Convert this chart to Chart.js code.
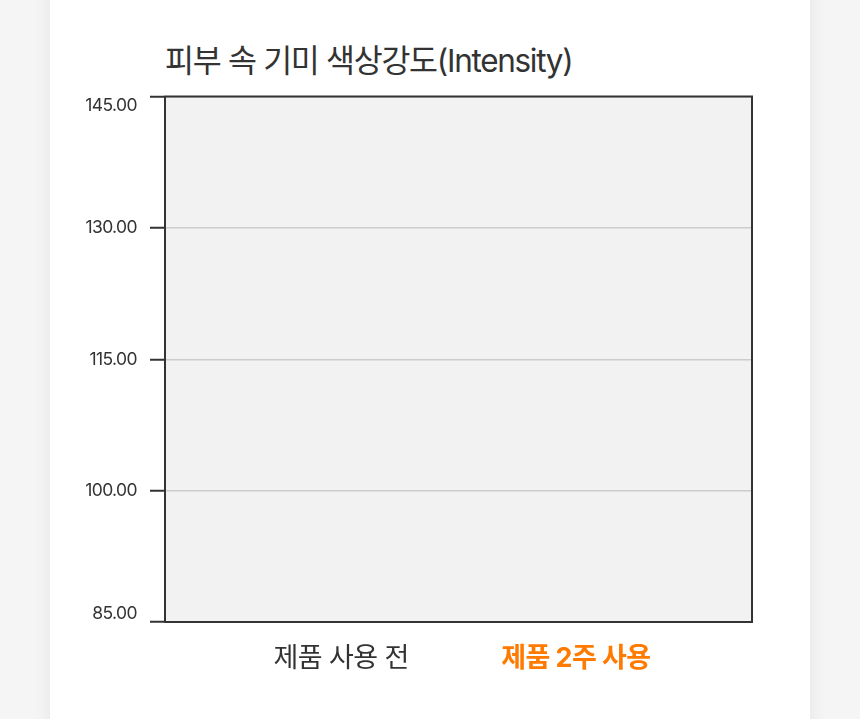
<!DOCTYPE html>
<html lang="ko">
<head>
<meta charset="utf-8">
<script src="https://cdn.jsdelivr.net/npm/chart.js@4/dist/chart.umd.min.js"></script>
<style>
  html, body { margin: 0; padding: 0; background: #f5f5f5; width: 860px; height: 719px; overflow: hidden; }
  #card { position: absolute; left: 50px; top: -20px; width: 760px; height: 780px; background: #fff;
          box-shadow: 0 0 18px rgba(0,0,0,0.07); }
  #title { position: absolute; left: 115px; top: 65px; margin: 0; font-family: Inter, "Noto Sans CJK KR", sans-serif;
           font-weight: 400; font-size: 31.5px; letter-spacing: -1.3px; color: #333; line-height: 1; white-space: nowrap; }
  #wrap { position: absolute; left: 0; top: 86px; width: 760px; height: 653px; }
</style>
</head>
<body>
<div id="card">
  <h1 id="title">피부 속 기미 색상강도(Intensity)</h1>
  <div id="wrap"><canvas id="c"></canvas></div>
</div>
<script>
const categories = ['제품 사용 전', '제품 2주 사용'];
const intensityValues = [null, null];   // no bars are visible in the reference
const yTicks = [85, 100, 115, 130, 145];
const yMin = 85, yMax = 145;

// category slots: the two labels sit at 30% and 70% of the plot width
const slotLabels = ['', categories[0], '', categories[1], ''];
const slotData = [null, intensityValues[0], null, intensityValues[1], null];

const frame = {
  id: 'frame',
  beforeInit(chart) { chart.ctx.letterSpacing = '-0.6px'; },
  beforeDraw(chart) {
    const { ctx, chartArea: a } = chart;
    ctx.letterSpacing = '-0.6px';
    ctx.save();
    ctx.fillStyle = '#f2f2f2';
    ctx.fillRect(a.left, a.top, a.right - a.left, a.bottom - a.top);
    ctx.restore();
  },
  afterDraw(chart) {
    const { ctx, chartArea: a } = chart;
    ctx.save();
    ctx.strokeStyle = '#333';
    ctx.lineWidth = 2;
    ctx.strokeRect(a.left, a.top, a.right - a.left, a.bottom - a.top);
    ctx.restore();
  }
};

new Chart(document.getElementById('c'), {
  type: 'bar',
  data: {
    labels: slotLabels,
    datasets: [{ data: slotData, backgroundColor: ['#555', '#555', '#555', '#ff7a00', '#555'] }]
  },
  options: {
    responsive: true,
    maintainAspectRatio: false,
    animation: false,
    layout: { padding: { top: 10, right: 58, left: 0, bottom: 0 } },
    plugins: { legend: { display: false }, tooltip: { enabled: false } },
    scales: {
      x: {
        offset: true,
        grid: { display: false, drawTicks: false },
        border: { display: false },
        ticks: {
          padding: 21,
          maxRotation: 0,
          autoSkip: false,
          font: (ctx) => ({ family: 'Inter, "Noto Sans CJK KR", sans-serif', size: 27, weight: ctx.index === 3 ? 'bold' : 'normal' }),
          color: (ctx) => ctx.index === 3 ? '#ff7a00' : '#333'
        },
        afterFit(s) { s.height = 97; }
      },
      y: {
        min: yMin, max: yMax,
        afterBuildTicks(s) { s.ticks = yTicks.map(v => ({ value: v })); },
        grid: { color: '#cccccc', lineWidth: 1.5, tickLength: 15, tickColor: '#333', tickWidth: 2 },
        border: { color: '#333', width: 2 },
        ticks: {
          padding: 13,
          color: '#333',
          font: { family: 'Inter, "Noto Sans CJK KR", sans-serif', size: 17.5, lineHeight: 1 },
          callback(v) {
            const t = Number(v).toFixed(2);
            if (v === yMax) return ['', t];
            if (v === yMin) return [t, ''];
            return t;
          }
        },
        afterFit(s) { s.width = 115; }
      }
    }
  },
  plugins: [frame]
});
</script>
</body>
</html>
